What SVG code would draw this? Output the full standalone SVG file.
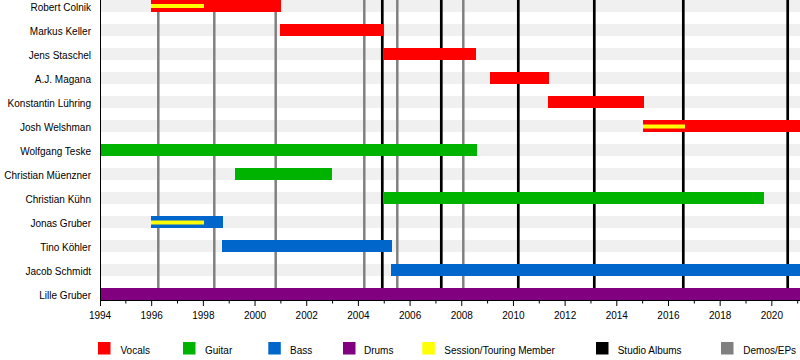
<svg xmlns="http://www.w3.org/2000/svg" width="800" height="360" viewBox="0 0 800 360">
<style>
text{font-family:"Liberation Sans",Arial,sans-serif;font-size:10px;fill:#000}
.lbl{text-anchor:end}
.yr{text-anchor:middle}
.stripe{fill:#f0f0f0}
.demo{stroke:#808080;stroke-width:2.5}
.album{stroke:#000;stroke-width:2.7}
.voc{fill:#ff0000}
.gui{fill:#00b300}
.bas{fill:#0066cc}
.dru{fill:#800080}
.ses{fill:#ffff00}
.axis{stroke:#000;stroke-width:1;fill:none}
</style>
<rect width="800" height="360" fill="#fff"/>
<g id="stripes">
<rect class="stripe" x="101" y="0" width="699" height="12"/>
<rect class="stripe" x="101" y="24" width="699" height="12"/>
<rect class="stripe" x="101" y="48" width="699" height="12"/>
<rect class="stripe" x="101" y="72" width="699" height="12"/>
<rect class="stripe" x="101" y="96" width="699" height="12"/>
<rect class="stripe" x="101" y="120" width="699" height="12"/>
<rect class="stripe" x="101" y="144" width="699" height="12"/>
<rect class="stripe" x="101" y="168" width="699" height="12"/>
<rect class="stripe" x="101" y="192" width="699" height="12"/>
<rect class="stripe" x="101" y="216" width="699" height="12"/>
<rect class="stripe" x="101" y="240" width="699" height="12"/>
<rect class="stripe" x="101" y="264" width="699" height="12"/>
<rect class="stripe" x="101" y="288" width="699" height="12"/>
</g>
<g id="connectors">
<line class="demo" x1="158.3" y1="0" x2="158.3" y2="300"/>
<line class="demo" x1="214.3" y1="0" x2="214.3" y2="300"/>
<line class="demo" x1="275.7" y1="0" x2="275.7" y2="300"/>
<line class="demo" x1="364.3" y1="0" x2="364.3" y2="300"/>
<line class="demo" x1="397.3" y1="0" x2="397.3" y2="300"/>
<line class="demo" x1="463.3" y1="0" x2="463.3" y2="300"/>
<line class="album" x1="382.3" y1="0" x2="382.3" y2="300"/>
<line class="album" x1="441.3" y1="0" x2="441.3" y2="300"/>
<line class="album" x1="518.3" y1="0" x2="518.3" y2="300"/>
<line class="album" x1="594.3" y1="0" x2="594.3" y2="300"/>
<line class="album" x1="683.3" y1="0" x2="683.3" y2="300"/>
<line class="album" x1="787.7" y1="0" x2="787.7" y2="300"/>
</g>
<g id="robert-colnik">
<rect class="voc" x="151" y="0" width="130" height="12"/>
<rect class="ses" x="151" y="4" width="53" height="4"/>
<text class="lbl" x="91" y="11">Robert Colnik</text>
</g>
<g id="markus-keller">
<rect class="voc" x="280" y="24" width="104" height="12"/>
<text class="lbl" x="91" y="35">Markus Keller</text>
</g>
<g id="jens-staschel">
<rect class="voc" x="383.3" y="48" width="92.7" height="12"/>
<text class="lbl" x="91" y="59">Jens Staschel</text>
</g>
<g id="aj-magana">
<rect class="voc" x="490" y="72" width="59" height="12"/>
<text class="lbl" x="91" y="83">A.J. Magana</text>
</g>
<g id="konstantin-luehring">
<rect class="voc" x="548" y="96" width="96" height="12"/>
<text class="lbl" x="91" y="107">Konstantin Lühring</text>
</g>
<g id="josh-welshman">
<rect class="voc" x="643" y="120" width="157" height="12"/>
<rect class="ses" x="643" y="124.5" width="42" height="4"/>
<text class="lbl" x="91" y="131">Josh Welshman</text>
</g>
<g id="wolfgang-teske">
<rect class="gui" x="100" y="144" width="377" height="12"/>
<text class="lbl" x="91" y="155">Wolfgang Teske</text>
</g>
<g id="christian-mueenzner">
<rect class="gui" x="235" y="168" width="97" height="12"/>
<text class="lbl" x="91" y="179">Christian Müenzner</text>
</g>
<g id="christian-kuehn">
<rect class="gui" x="383" y="192" width="381" height="12"/>
<text class="lbl" x="91" y="203">Christian Kühn</text>
</g>
<g id="jonas-gruber">
<rect class="bas" x="151" y="216" width="72" height="12"/>
<rect class="ses" x="151" y="220.5" width="53" height="4"/>
<text class="lbl" x="91" y="227">Jonas Gruber</text>
</g>
<g id="tino-koehler">
<rect class="bas" x="222" y="240" width="170" height="12"/>
<text class="lbl" x="91" y="251">Tino Köhler</text>
</g>
<g id="jacob-schmidt">
<rect class="bas" x="391" y="264" width="409" height="12"/>
<text class="lbl" x="91" y="275">Jacob Schmidt</text>
</g>
<g id="lille-gruber">
<rect class="dru" x="100" y="288" width="700" height="12"/>
<text class="lbl" x="91" y="299">Lille Gruber</text>
</g>
<g id="axis">
<path class="axis" d="M100.5,0V300.5H800"/>
<path class="axis" d="M100.5,300v6M125.84,300v3.5M151.68,300v6M177.52,300v3.5M203.36,300v6M229.2,300v3.5M255.04,300v6M280.88,300v3.5M306.72,300v6M332.56,300v3.5M358.4,300v6M384.24,300v3.5M410.08,300v6M435.92,300v3.5M461.76,300v6M487.6,300v3.5M513.44,300v6M539.28,300v3.5M565.12,300v6M590.96,300v3.5M616.8,300v6M642.64,300v3.5M668.48,300v6M694.32,300v3.5M720.16,300v6M746,300v3.5M771.84,300v6M797.68,300v3.5"/>
<text class="yr" x="100" y="319">1994</text>
<text class="yr" x="151.68" y="319">1996</text>
<text class="yr" x="203.36" y="319">1998</text>
<text class="yr" x="255.04" y="319">2000</text>
<text class="yr" x="306.72" y="319">2002</text>
<text class="yr" x="358.4" y="319">2004</text>
<text class="yr" x="410.08" y="319">2006</text>
<text class="yr" x="461.76" y="319">2008</text>
<text class="yr" x="513.44" y="319">2010</text>
<text class="yr" x="565.12" y="319">2012</text>
<text class="yr" x="616.8" y="319">2014</text>
<text class="yr" x="668.48" y="319">2016</text>
<text class="yr" x="720.16" y="319">2018</text>
<text class="yr" x="771.84" y="319">2020</text>
</g>
<g id="legend">
<rect class="voc" x="98" y="342" width="12.5" height="12.5"/>
<text x="120.5" y="354">Vocals</text>
<rect class="gui" x="183" y="342" width="12.5" height="12.5"/>
<text x="205" y="354">Guitar</text>
<rect class="bas" x="268.3" y="342" width="12.5" height="12.5"/>
<text x="290" y="354">Bass</text>
<rect class="dru" x="343" y="342" width="12.5" height="12.5"/>
<text x="364" y="354">Drums</text>
<rect class="ses" x="422.3" y="342" width="12.5" height="12.5"/>
<text x="444.3" y="354">Session/Touring Member</text>
<rect fill="#000" x="596" y="342" width="12.5" height="12.5"/>
<text x="617.7" y="354">Studio Albums</text>
<rect fill="#808080" x="721" y="342" width="12.5" height="12.5"/>
<text x="743.3" y="354">Demos/EPs</text>
</g>
</svg>
